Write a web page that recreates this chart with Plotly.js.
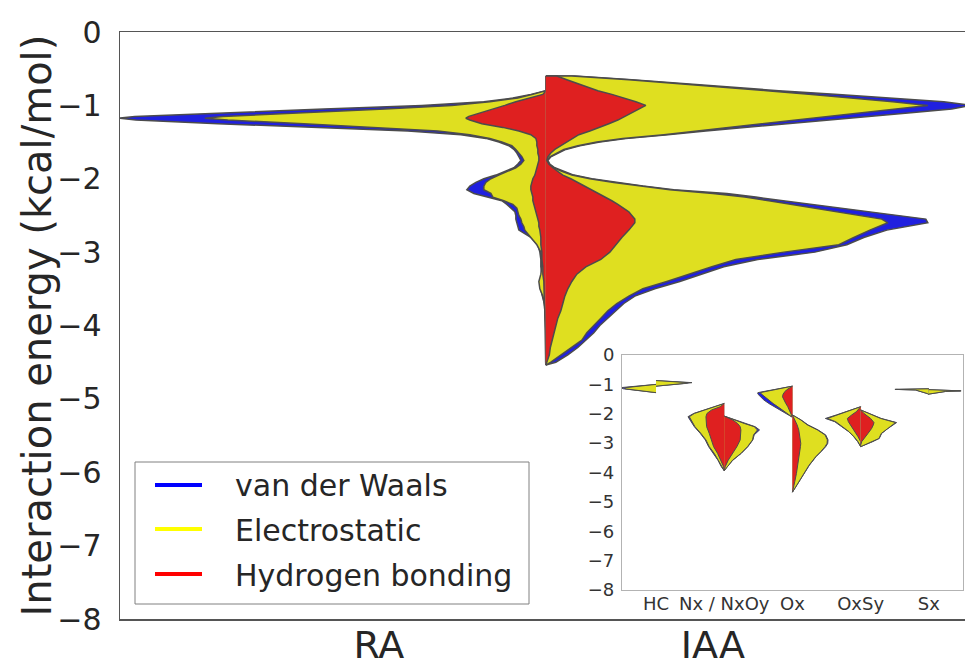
<!DOCTYPE html>
<html>
<head>
<meta charset="utf-8">
<script src="https://cdn.plot.ly/plotly-3.0.1.min.js"></script>
<style>html,body{margin:0;padding:0;background:#fff;}#chart{width:965px;height:668px;}</style>
</head>
<body>
<div id="chart"></div>
<script>
// ---------------- DATA ----------------
const mainCategories = ['RA', 'IAA'];
const seriesNames = ['van der Waals', 'Electrostatic', 'Hydrogen bonding'];
const yAxisTitle = 'Interaction energy (kcal/mol)';

// Interaction energy grid (kcal/mol) for the main split violin
const energyGrid = [-0.60,-0.65,-0.70,-0.75,-0.80,-0.85,-0.90,-0.95,-1.00,-1.05,-1.10,-1.15,-1.175,-1.20,-1.25,-1.30,-1.35,-1.40,-1.45,-1.50,-1.55,-1.60,-1.65,-1.70,-1.75,-1.80,-1.85,-1.90,-1.95,-2.00,-2.05,-2.10,-2.15,-2.20,-2.25,-2.30,-2.35,-2.40,-2.45,-2.50,-2.55,-2.60,-2.65,-2.70,-2.80,-2.90,-3.00,-3.10,-3.20,-3.30,-3.40,-3.50,-3.60,-3.70,-3.80,-3.90,-4.00,-4.10,-4.20,-4.30,-4.40,-4.50,-4.54];

// Density (violin half-width) per energy level — RA (left half)
const raVdw  = [0,0,0,0,0,15,33,62,124,222,315,411,427,410,328,235,138,85,60,47,37,32,29,27,25, 28,32,41,50,62,70,76,79,72,57,44,39,35,31,30,30,29,28,27, 15,8,6,5,5,4,5,5,3.5,1.5,0.5,0,0,0,0,0,0,0, 0];
const raElec = [0,0,0,0,0,13,28,56,94,161,244,323,341,318,242,168,108,76,56,44,34,30,27,24,22, 25,30,39,47,55,60,62,62,55,53,42,33,29,28,27,25,24,22,21, 15,9,5,4,4,5,7,6,3,1.5,1,0.5,0,0,0,0,0,0, 0];
const raHB   = [0,0,0,0,0,3,18,30,41,53,65,77,80,76,64,43,27,15,10,9,9,8,8,7,7, 8,9,10,11,13,14,15,15,14,13,13,12,11,10,9,8,7,7,6, 5,5,4,4,3,3,2,2,1.5,1.5,1,1,0.5,0.5,0.5,0.5,0.3,0.2, 0];

// Density per energy level — IAA (right half)
const iaaVdw  = [29,86,134,180,233,289,344,398,425,406,365,323,302,282,240,200,160,122,80,54,34,20,12,5,2, 4,9,18,28,46,71,97,128,181,210,238,266,295,323,351,380,382,362,341, 318,301,269,212,178,156,134,109,89,78,70,61,54,48,40,32,22,10, 0];
const iaaElec = [26,83,131,177,221,263,306,347,382,349,318,286,270,253,223,190,155,118,77,51,32,18,11,4,1, 3,8,16,26,44,68,94,124,167,199,223,246,269,292,315,336,342,332,324, 308,293,238,190,166,144,121,97,83,71,62,55,48,41,36,26,16,5, 0];
const iaaHB   = [11,21,31,41,52,66,79,90,100,93,87,80,76,72,63,54,44,33,27,21,15,9,5,2,1, 3,7,12,17,25,32,39,45,53,60,66,72,78,83,86,89,89,86,83, 76,70,64,55,40,31,26,22,19,17,15,12,10,8,6,4.5,3.5,1.5, 0];

// Inset categories
const insetCategories = ['HC', 'Nx / NxOy', 'Ox', 'OxSy', 'Sx'];

// Inset: HC
const hcRaE = [-1.00,-1.04,-1.08,-1.11,-1.15,-1.19,-1.24,-1.28];
const hcRaVdw = [0,42,73,106,98,69,34,0];
const hcRaElec = [0,40,70,92,93,67,33,0];
const hcRaHB = [0,0,0,0,0,0,0,0];
const hcIaaE = [-0.87,-0.90,-0.92,-0.94,-0.97,-1.01,-1.06];
const hcIaaVdw = [0,54,105,108,86,43,0];
const hcIaaElec = [0,50,92,96,82,42,0];
const hcIaaHB = [0,0,0,0,0,0,0];
// Inset: Nx / NxOy
const nxRaE = [-1.65,-1.76,-1.87,-1.99,-2.10,-2.21,-2.44,-2.67,-2.89,-3.12,-3.35,-3.58,-3.80,-3.94];
const nxRaVdw = [0,31,62,92,109,103,90,72,57,47,32,19,9,0];
const nxRaElec = [0,30,60,90,105,100,88,70,55,45,30,18,8,0];
const nxRaHB = [0,12,38,52,55,55,53,45,38,32,20,10,2,0];
const nxIaaE = [-2.08,-2.21,-2.33,-2.44,-2.55,-2.72,-2.89,-3.12,-3.35,-3.58,-3.80,-3.94];
const nxIaaVdw = [0,32,62,93,106,90,86,71,51,26,9,0];
const nxIaaElec = [0,30,60,90,100,88,85,70,50,25,8,0];
const nxIaaHB = [0,25,40,48,50,50,48,38,25,12,3,0];
// Inset: Ox
const oxRaE = [-1.06,-1.14,-1.19,-1.25,-1.28,-1.33,-1.42,-1.53,-1.65,-1.76,-1.87,-1.99,-2.08,-2.12];
const oxRaVdw = [0,37,61,87,104,104,97,86,71,55,39,21,5,0];
const oxRaElec = [0,35,58,83,97,93,84,72,58,44,30,16,4,0];
const oxRaHB = [0,12,18,23,26,28,30,26,20,14,9,5,1,0];
const oxIaaE = [-2.04,-2.21,-2.38,-2.55,-2.72,-2.89,-3.01,-3.12,-3.29,-3.46,-3.75,-4.03,-4.31,-4.60,-4.67];
const oxIaaVdw = [0,26,47,77,100,107,106,100,86,71,51,36,21,6,0];
const oxIaaElec = [0,25,45,75,98,105,104,98,85,70,50,35,20,5,0];
const oxIaaHB = [0,8,14,19,22,25,25,24,22,20,16,12,7,3,0];
// Inset: OxSy
const oxsyRaE = [-1.76,-1.93,-2.04,-2.16,-2.27,-2.44,-2.61,-2.78,-2.95,-3.12];
const oxsyRaVdw = [0,42,73,106,78,57,36,21,9,0];
const oxsyRaElec = [0,40,70,100,75,55,35,20,8,0];
const oxsyRaHB = [0,13,27,40,37,27,18,8,0,0];
const oxsyIaaE = [-1.87,-1.99,-2.16,-2.30,-2.38,-2.50,-2.67,-2.84,-2.95,-3.07,-3.12];
const oxsyIaaVdw = [0,26,62,108,97,82,63,56,36,11,0];
const oxsyIaaElec = [0,25,60,105,95,80,62,55,35,10,0];
const oxsyIaaHB = [0,10,30,40,38,33,22,10,3,0,0];
// Inset: Sx
const sxRaE = [-1.15,-1.17,-1.19,-1.25,-1.31,-1.34];
const sxRaVdw = [0,102,41,21,5,0];
const sxRaElec = [0,100,40,20,5,0];
const sxRaHB = [0,0,0,0,0,0];
const sxIaaE = [-1.18,-1.22,-1.24,-1.28,-1.33];
const sxIaaVdw = [0,97,51,21,0];
const sxIaaElec = [0,95,50,20,0];
const sxIaaHB = [0,0,0,0,0];

// ---------------- STYLE ----------------
const fillColors = ['rgb(32,32,223)', 'rgb(223,223,32)', 'rgb(223,32,32)'];
const legendColors = ['rgb(0,0,255)', 'rgb(255,255,0)', 'rgb(255,0,0)'];
const outline = '#4c4c4c';
const mainScale = 1 / 334;   // density -> x units (main)
const insetScale = 1 / 205;  // density -> category units (inset)
const splitPos = 0.5;        // split violin drawn between the two categories

function halfViolin(center, ys, ws, side, scale, color, lw, xa, ya) {
  const xs = [center], yy = [ys[0]];
  for (let i = 0; i < ys.length; i++) { xs.push(center + side * ws[i] * scale); yy.push(ys[i]); }
  xs.push(center); yy.push(ys[ys.length - 1]);
  return { type: 'scatter', mode: 'lines', x: xs, y: yy, fill: 'toself', fillcolor: color,
           line: { color: outline, width: lw }, hoverinfo: 'skip', showlegend: false, xaxis: xa, yaxis: ya };
}

const traces = [];
[[raVdw, raElec, raHB, -1], [iaaVdw, iaaElec, iaaHB, 1]].forEach(([v, e, h, side]) => {
  [v, e, h].forEach((ws, k) => traces.push(halfViolin(splitPos, energyGrid, ws, side, mainScale, fillColors[k], 1.5, 'x', 'y')));
});

const insetSets = [
  [hcRaE, hcRaVdw, hcRaElec, hcRaHB, hcIaaE, hcIaaVdw, hcIaaElec, hcIaaHB],
  [nxRaE, nxRaVdw, nxRaElec, nxRaHB, nxIaaE, nxIaaVdw, nxIaaElec, nxIaaHB],
  [oxRaE, oxRaVdw, oxRaElec, oxRaHB, oxIaaE, oxIaaVdw, oxIaaElec, oxIaaHB],
  [oxsyRaE, oxsyRaVdw, oxsyRaElec, oxsyRaHB, oxsyIaaE, oxsyIaaVdw, oxsyIaaElec, oxsyIaaHB],
  [sxRaE, sxRaVdw, sxRaElec, sxRaHB, sxIaaE, sxIaaVdw, sxIaaElec, sxIaaHB]
];
insetSets.forEach((s, ci) => {
  [[s[0], [s[1], s[2], s[3]], -1], [s[4], [s[5], s[6], s[7]], 1]].forEach(([ys, arr, side]) => {
    arr.forEach((ws, k) => {
      if (Math.max(...ws) > 0) traces.push(halfViolin(ci, ys, ws, side, insetScale, fillColors[k], 1, 'x2', 'y2'));
    });
  });
});

// ---------------- LAYOUT ----------------
const W = 965, H = 668, ML = 120, MR = 0, MT = 32, MB = 49;
const plotW = W - ML - MR, plotH = H - MT - MB;
const px2x = p => (p - ML) / plotW;          // pixel -> paper x
const px2y = p => (H - MB - p) / plotH;      // pixel -> paper y

// hand-made legend (box, coloured lines, labels)
const legendRows = [485, 529, 574];
const shapes = [{ type: 'rect', xref: 'paper', yref: 'paper', x0: px2x(135), x1: px2x(529), y0: px2y(604), y1: px2y(462),
                  line: { color: '#808080', width: 1 }, fillcolor: '#ffffff', layer: 'above' }];
const annotations = [];
seriesNames.forEach((n, k) => {
  shapes.push({ type: 'line', xref: 'paper', yref: 'paper', x0: px2x(155), x1: px2x(202), y0: px2y(legendRows[k]), y1: px2y(legendRows[k]),
                line: { color: legendColors[k], width: 4 }, layer: 'above' });
  annotations.push({ xref: 'paper', yref: 'paper', x: px2x(233), y: px2y(legendRows[k] + 1), xanchor: 'left', yanchor: 'middle',
                     text: n, showarrow: false, font: { size: 30, color: '#262626' } });
});
annotations.push({ xref: 'paper', yref: 'paper', x: px2x(36), y: 0.5, xanchor: 'center', yanchor: 'middle', textangle: -90,
                   text: yAxisTitle, showarrow: false, font: { size: 40, color: '#262626' } });

const yTicks = [0,-1,-2,-3,-4,-5,-6,-7,-8];
const layout = {
  width: W, height: H,
  margin: { l: ML, r: MR, t: MT, b: MB },
  paper_bgcolor: '#fff', plot_bgcolor: '#fff',
  font: { family: 'DejaVu Sans', color: '#262626' },
  showlegend: false,
  xaxis: { domain: [0, 1], range: [-0.775, 1.755], tickvals: [0, 1], ticktext: mainCategories,
           tickfont: { size: 38, color: '#262626' }, showgrid: false, zeroline: false, showline: true, mirror: true,
           linecolor: '#555', linewidth: 1.5, ticks: '', ticklen: 0, ticklabelstandoff: -8 },
  yaxis: { domain: [0, 1], range: [-8, 0], tickvals: yTicks, tickfont: { size: 30, color: '#262626' },
           showgrid: false, zeroline: false, showline: true, linecolor: '#555', linewidth: 1.5, ticks: '',
           ticklabelstandoff: 11 },
  xaxis2: { domain: [0.594, 0.9976], anchor: 'y2', range: [-0.5, 4.5], tickvals: [0,1,2,3,4], ticktext: insetCategories,
            tickfont: { size: 18, color: '#333' }, showgrid: false, zeroline: false, showline: true, mirror: true,
            linecolor: '#b3b3b3', linewidth: 1, ticks: '', ticklen: 0, ticklabelstandoff: -3 },
  yaxis2: { domain: [0.0494, 0.4497], anchor: 'x2', range: [-8, 0], tickvals: yTicks, tickfont: { size: 18, color: '#333' },
            showgrid: false, zeroline: false, showline: true, mirror: true, linecolor: '#b3b3b3', linewidth: 1,
            ticks: '', ticklabelstandoff: 3 },
  shapes: shapes,
  annotations: annotations
};

Plotly.newPlot('chart', traces, layout, { staticPlot: true });
</script>
</body>
</html>
